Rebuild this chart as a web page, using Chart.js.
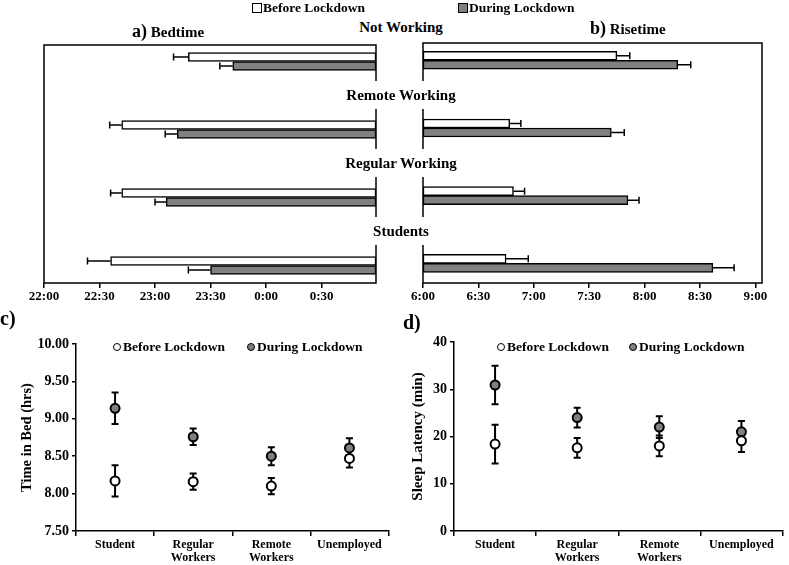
<!DOCTYPE html>
<html>
<head>
<meta charset="utf-8">
<script src="https://cdn.jsdelivr.net/npm/chart.js@4.4.1/dist/chart.umd.min.js"></script>
<style>
  body { margin: 0; background: #fff; }
  #wrap { position: relative; width: 789px; height: 565px; overflow: hidden;
          font-family: 'Liberation Serif', 'Times New Roman', serif; font-weight: bold; color: #000; }
  canvas { position: absolute; }
  .t { position: absolute; white-space: nowrap; z-index: 3; }
  .sq { display: inline-block; width: 8px; height: 8px; border: 1.5px solid #000; margin-right: 1px; vertical-align: -1px; }
  .dot { display: inline-block; width: 6px; height: 6px; border: 1.5px solid #000; border-radius: 50%; margin-right: 2px; vertical-align: 0px; }
  .grp { position: absolute; left: 332px; width: 138px; text-align: center; background: #fff; font-size: 15px; height: 28px; line-height: 28px; z-index: 2; }
</style>
</head>
<body>
<div id="wrap">
  <canvas id="bed" width="395" height="310" style="left:0;top:0"></canvas>
  <canvas id="rise" width="394" height="310" style="left:395px;top:0"></canvas>
  <canvas id="tib" width="395" height="265" style="left:0;top:300px"></canvas>
  <canvas id="lat" width="394" height="265" style="left:395px;top:300px"></canvas>

  <div class="t" style="left:252px;top:0;font-size:13.5px;line-height:15px"><span class="sq" style="background:#fff"></span>Before Lockdown</div>
  <div class="t" style="left:458px;top:0;font-size:13.5px;line-height:15px"><span class="sq" style="background:#808080"></span>During Lockdown</div>

  <div class="t" style="left:132px;top:20px;line-height:22px;font-size:15px"><span style="font-size:18px">a)</span>&nbsp;Bedtime</div>
  <div class="t" style="left:590px;top:17px;line-height:22px;font-size:15px"><span style="font-size:18px">b)</span>&nbsp;Risetime</div>

  <div class="t" style="left:0;top:306px;line-height:24px;font-size:20px">c)</div>
  <div class="t" style="left:403px;top:310px;line-height:24px;font-size:20px">d)</div>

  <div class="t" style="left:113px;top:339px;font-size:13.5px;line-height:15px"><span class="dot" style="background:#fff"></span>Before Lockdown</div>
  <div class="t" style="left:247px;top:339px;font-size:13.5px;line-height:15px"><span class="dot" style="background:#808080"></span>During Lockdown</div>
  <div class="t" style="left:497px;top:339px;font-size:13.5px;line-height:15px"><span class="dot" style="background:#fff"></span>Before Lockdown</div>
  <div class="t" style="left:629px;top:339px;font-size:13.5px;line-height:15px"><span class="dot" style="background:#808080"></span>During Lockdown</div>
</div>

<script>
// groups of panels a/b, times, errors in minutes
const groups = ['Not Working', 'Remote Working', 'Regular Working', 'Students'];
const bedBefore = ['23:18', '22:42', '22:42', '22:36'];
const bedBeforeErr = [8, 6.5, 6, 12.5];
const bedDuring = ['23:42', '23:12', '23:06', '23:30'];
const bedDuringErr = [7, 6.5, 6, 12];
const riseBefore = ['7:45', '6:47', '6:49', '6:45'];
const riseBeforeErr = [7, 6, 6, 12];
const riseDuring = ['8:18', '7:42', '7:51', '8:37'];
const riseDuringErr = [7, 7, 6, 11.5];

// panels c/d
const workers = ['Student', ['Regular', 'Workers'], ['Remote', 'Workers'], 'Unemployed'];
const tibBefore = [8.17, 8.16, 8.10, 8.47];
const tibBeforeErr = [0.21, 0.11, 0.11, 0.12];
const tibDuring = [9.14, 8.76, 8.50, 8.61];
const tibDuringErr = [0.21, 0.11, 0.12, 0.13];
const latBefore = [18.4, 17.6, 18.0, 19.1];
const latBeforeErr = [4.1, 2.1, 2.2, 2.4];
const latDuring = [30.9, 24.0, 22.0, 21.0];
const latDuringErr = [4.1, 2.1, 2.3, 2.3];

const BED_MIN = 22, BED_MAX = 24.99;
const RISE_MIN = 6, RISE_MAX = 9.06;

Chart.defaults.font.family = "'Liberation Serif', 'Times New Roman', serif";
Chart.defaults.font.weight = 'bold';
Chart.defaults.font.size = 13;
Chart.defaults.color = '#000';

function toHours(s, night) {
  let [h, m] = s.split(':').map(Number);
  if (night && h < 12) h += 24;
  return h + m / 60;
}
function fmtTime(v) {
  let h = Math.floor(v + 1e-6), m = Math.round((v - h) * 60);
  return (h % 24) + ':' + (m < 10 ? '0' + m : m);
}

const frame = {
  id: 'frame',
  afterDatasetsDraw(chart) {
    const a = chart.chartArea, ctx = chart.ctx;
    ctx.save();
    ctx.strokeStyle = '#000';
    ctx.lineWidth = 1.5;
    ctx.strokeRect(a.left, a.top, a.right - a.left, a.bottom - a.top);
    ctx.restore();
  }
};

// one sided error bars on the horizontal bars
const hErr = {
  id: 'hErr',
  afterDatasetsDraw(chart, args, opts) {
    const ctx = chart.ctx, xs = chart.scales.x;
    ctx.save();
    ctx.strokeStyle = '#000';
    ctx.lineWidth = 1.5;
    chart.data.datasets.forEach((ds, di) => {
      chart.getDatasetMeta(di).data.forEach((bar, i) => {
        const v = ds.data[i].x[opts.dir < 0 ? 0 : 1];
        const x0 = xs.getPixelForValue(v);
        const x1 = xs.getPixelForValue(v + opts.dir * ds.errors[i] / 60);
        const y = bar.y;
        ctx.beginPath();
        ctx.moveTo(x0, y); ctx.lineTo(x1, y);
        ctx.moveTo(x1, y - 3.5); ctx.lineTo(x1, y + 3.5);
        ctx.stroke();
      });
    });
    ctx.restore();
  }
};

const vErr = {
  id: 'vErr',
  beforeDatasetsDraw(chart) {
    const ctx = chart.ctx, ys = chart.scales.y;
    ctx.save();
    ctx.strokeStyle = '#000';
    ctx.lineWidth = 2;
    chart.data.datasets.forEach((ds, di) => {
      chart.getDatasetMeta(di).data.forEach((pt, i) => {
        const y1 = ys.getPixelForValue(ds.data[i] + ds.errors[i]);
        const y2 = ys.getPixelForValue(ds.data[i] - ds.errors[i]);
        ctx.beginPath();
        ctx.moveTo(pt.x, y1); ctx.lineTo(pt.x, y2);
        ctx.moveTo(pt.x - 3.5, y1); ctx.lineTo(pt.x + 3.5, y1);
        ctx.moveTo(pt.x - 3.5, y2); ctx.lineTo(pt.x + 3.5, y2);
        ctx.stroke();
      });
    });
    ctx.restore();
  }
};

function barChart(id, before, bErr, during, dErr, night, xMin, xMax, dir, yMin, yMax, pad) {
  const mk = (vals) => groups.map((g, i) => ({
    y: i,
    x: night ? [toHours(vals[i], true), xMax] : [xMin, toHours(vals[i], false)]
  }));
  const barStyle = { borderColor: '#000', borderWidth: 1.5, borderSkipped: false, barThickness: 9 };
  return new Chart(document.getElementById(id), {
    type: 'bar',
    data: {
      datasets: [
        Object.assign({ label: 'Before Lockdown', data: mk(before), errors: bErr, backgroundColor: '#fff' }, barStyle),
        Object.assign({ label: 'During Lockdown', data: mk(during), errors: dErr, backgroundColor: '#808080' }, barStyle)
      ]
    },
    options: {
      indexAxis: 'y',
      responsive: false,
      animation: false,
      layout: { padding: pad },
      plugins: { legend: { display: false }, tooltip: { enabled: false }, hErr: { dir: dir } },
      scales: {
        y: { type: 'linear', reverse: true, offset: false, min: yMin, max: yMax, display: false },
        x: {
          type: 'linear', min: xMin, max: xMax,
          border: { display: false },
          grid: { drawOnChartArea: false, tickLength: 5, color: '#000', lineWidth: 1.5 },
          ticks: { stepSize: 0.5, includeBounds: false, padding: 1, maxRotation: 0, callback: v => fmtTime(v) },
          afterFit: s => { s.height = 27; }
        }
      }
    },
    plugins: [frame, hErr]
  });
}

const bedChart = barChart('bed', bedBefore, bedBeforeErr, bedDuring, bedDuringErr, true,
  BED_MIN, BED_MAX, -1, -0.243, 3.257, { top: 45, left: 44, right: 19, bottom: 0 });
barChart('rise', riseBefore, riseBeforeErr, riseDuring, riseDuringErr, false,
  RISE_MIN, RISE_MAX, 1, -0.255, 3.29, { top: 43, left: 28, right: 27, bottom: 0 });

// group names sit between the two bar panels
groups.forEach((g, i) => {
  const y = bedChart.scales.y.getPixelForValue(i - 0.5);
  const d = document.createElement('div');
  d.className = 'grp';
  d.style.top = (y - 15) + 'px';
  d.textContent = g;
  document.getElementById('wrap').appendChild(d);
});

function pointChart(id, before, bErr, during, dErr, yOpts, title, titleSize, pad, yWidth) {
  const pt = { showLine: false, pointRadius: 4.5, pointBorderWidth: 2, pointBorderColor: '#000', borderColor: '#000' };
  return new Chart(document.getElementById(id), {
    type: 'line',
    data: {
      labels: workers,
      datasets: [
        Object.assign({ label: 'Before Lockdown', data: before, errors: bErr, pointBackgroundColor: '#fff' }, pt),
        Object.assign({ label: 'During Lockdown', data: during, errors: dErr, pointBackgroundColor: '#808080' }, pt)
      ]
    },
    options: {
      responsive: false,
      animation: false,
      layout: { padding: pad },
      plugins: { legend: { display: false }, tooltip: { enabled: false } },
      scales: {
        x: {
          offset: true,
          border: { color: '#000', width: 1.5 },
          grid: { offset: true, drawOnChartArea: false, tickLength: 5, color: '#000', lineWidth: 1.5 },
          ticks: { font: { size: 12, lineHeight: 1.1 }, padding: 2, maxRotation: 0, autoSkip: false },
          afterFit: s => { s.height = 34; }
        },
        y: Object.assign({
          border: { color: '#000', width: 1.5 },
          grid: { drawOnChartArea: false, tickLength: 4, color: '#000', lineWidth: 1.5 },
          title: { display: true, text: title, font: { size: titleSize }, padding: { top: 4, bottom: 4 } },
          afterFit: s => { s.width = yWidth; }
        }, yOpts)
      }
    },
    plugins: [vErr]
  });
}

pointChart('tib', tibBefore, tibBeforeErr, tibDuring, tibDuringErr,
  { min: 7.5, max: 10, ticks: { stepSize: 0.5, padding: 3, font: { size: 14 }, callback: v => v.toFixed(2) } },
  'Time in Bed (hrs)', 14.5, { top: 44, left: 15, right: 5, bottom: 0 }, 61);

pointChart('lat', latBefore, latBeforeErr, latDuring, latDuringErr,
  { min: 0, max: 40, ticks: { stepSize: 10, padding: 3, font: { size: 14 } } },
  'Sleep Latency (min)', 15, { top: 42, left: 10, right: 2, bottom: 0 }, 49);
</script>
</body>
</html>
